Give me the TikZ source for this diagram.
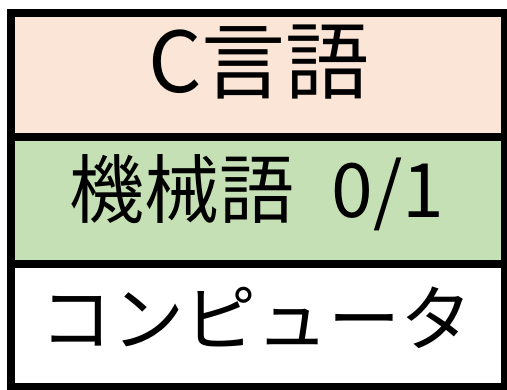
\documentclass[tikz,border=0pt]{standalone}
\usepackage{fontspec}
\setmainfont{Noto Sans CJK JP}
\definecolor{peach}{HTML}{FBE5D6}
\definecolor{lgreen}{HTML}{C5E0B4}
\tikzset{layer/.style={draw=black, line width=8pt, inner sep=0pt}}
\begin{document}
\begin{tikzpicture}[x=1pt,y=-1pt]
\useasboundingbox (0,0) rectangle (507,389);
\begin{scope}
\clip (0,0) rectangle (507,389);
\draw[layer, fill=peach] (11,13) rectangle (505,137);
\draw[layer, fill=lgreen] (11,137) rectangle (505,264);
\draw[layer, fill=white] (11,264) rectangle (505,387);
\end{scope}
\node[layer, draw=none, font=\fontsize{84}{88}\selectfont] (c) at (259,62) {C言語};
\node[layer, draw=none, font=\fontsize{75}{80}\selectfont] (m) at (257,193) {機械語\hspace{0.5em}0/1};
\node[layer, draw=none, font=\fontsize{72}{76}\selectfont] (h) at (257,318) {コンピュータ};
\end{tikzpicture}
\end{document}
